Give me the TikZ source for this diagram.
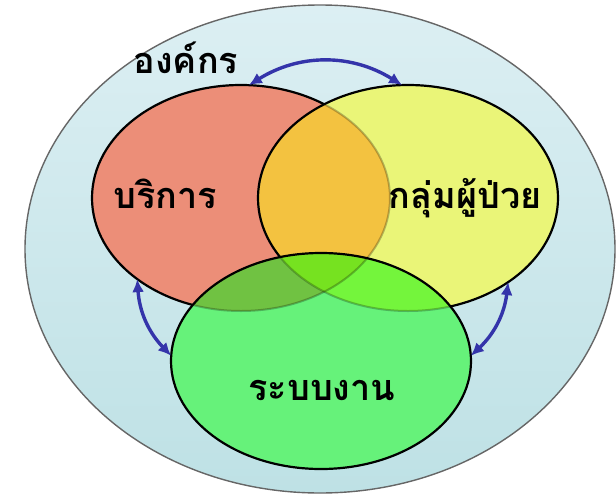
\documentclass[tikz,border=0pt]{standalone}
\usepackage{fontspec}
\newfontfamily\thaifont[Script=Thai]{Loma}
\usetikzlibrary{shapes.geometric,arrows.meta}
\definecolor{redc}{RGB}{236,142,120}
\definecolor{yelc}{RGB}{234,245,120}
\definecolor{orac}{RGB}{243,194,64}
\definecolor{grnc}{RGB}{102,242,122}
\definecolor{dgrc}{RGB}{112,194,66}
\definecolor{bgrc}{RGB}{116,245,60}
\definecolor{cenc}{RGB}{118,226,32}
\definecolor{arrc}{RGB}{52,52,170}
\definecolor{bgtop}{RGB}{220,239,243}
\definecolor{bgbot}{RGB}{190,225,229}
\begin{document}
\begin{tikzpicture}[x=0.5pt,y=-0.5pt,
  setbox/.style={ellipse, draw=black, line width=1.1pt, inner sep=0pt, outer sep=0pt},
  faint/.style={draw=black, line width=1pt, opacity=0.25},
  lbl/.style={font=\thaifont\bfseries\fontsize{18}{20}\selectfont, text=black, inner sep=0pt, anchor=base},
  link/.style={draw=arrc, line width=1.7pt, {Latex[length=6.5pt,width=6pt]}-{Latex[length=6.5pt,width=6pt]}}]
\useasboundingbox (0,0) rectangle (616,493);
% coordinates of the three set centres
\coordinate (cr) at (241,198);
\coordinate (cy) at (408,198);
\coordinate (cg) at (321,361);
\def\redE{(cr) ellipse [x radius=149, y radius=113]}
\def\yelE{(cy) ellipse [x radius=150, y radius=113]}
\def\grnE{(cg) ellipse [x radius=150, y radius=108]}
% organisation
\node[ellipse, minimum width=295pt, minimum height=244pt, inner sep=0pt,
      top color=bgtop, bottom color=bgbot, draw=black!60, line width=0.7pt] (org) at (320,249) {};
% red set
\fill[redc] \redE;
\node[setbox, minimum width=149pt, minimum height=113pt] (srv) at (cr) {};
% yellow set
\fill[yelc] \yelE;
\begin{scope}\clip \redE; \fill[orac] \yelE; \end{scope}
\begin{scope}\clip \yelE; \draw[faint] \redE; \end{scope}
\node[setbox, minimum width=150pt, minimum height=113pt] (pat) at (cy) {};
% green set
\fill[grnc] \grnE;
\begin{scope}\clip \grnE; \clip \redE; \fill[dgrc] \grnE; \end{scope}
\begin{scope}\clip \grnE; \clip \yelE; \fill[bgrc] \grnE; \end{scope}
\begin{scope}\clip \grnE; \clip \redE; \clip \yelE; \fill[cenc] \grnE; \end{scope}
\begin{scope}\clip \grnE; \draw[faint] \redE; \draw[faint] \yelE; \end{scope}
\node[setbox, minimum width=150pt, minimum height=108pt] (sys) at (cg) {};
% labels
\node[lbl] (torg) at (186,73) {องค์กร};
\node[lbl] (tsrv) at (165,208) {บริการ};
\node[lbl] (tpat) at (465,208) {กลุ่มผู้ป่วย};
\node[lbl] (tsys) at (322,400) {ระบบงาน};
% arrows
\draw[link] (srv.86) to[bend left=32] (pat.93);
\draw[link] (srv.218) to[bend right=20] (sys.178);
\draw[link] (pat.320) to[bend left=20] (sys.2);
\end{tikzpicture}
\end{document}
